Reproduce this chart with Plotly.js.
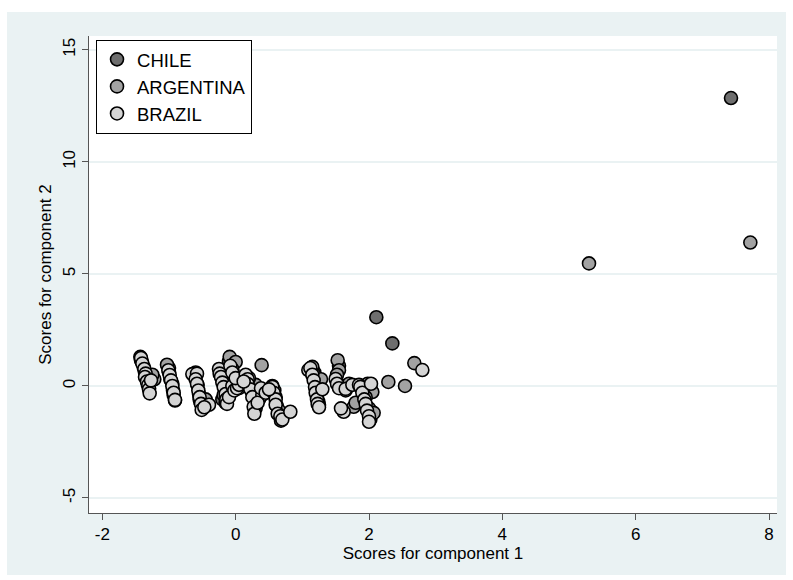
<!DOCTYPE html>
<html>
<head>
<meta charset="utf-8">
<script src="https://cdn.plot.ly/plotly-3.0.1.min.js"></script>
<style>
html,body{margin:0;padding:0;background:#ffffff;width:793px;height:580px;overflow:hidden;}
#chart{position:absolute;left:7px;top:12px;width:779px;height:563px;}
</style>
</head>
<body>
<div id="chart"></div>
<script>
// Country names (legend)
const countries = ["CHILE", "ARGENTINA", "BRAZIL"];

// CHILE scores
const chileX = [7.43, 2.11, 2.35, -1.41, -1.36, -1.30, -1.00, -0.94, -0.62, -0.54, -0.10, -0.05, -0.20, 0.20, 0.30, 0.62, 0.68, 1.18, 1.24, 1.55, 1.65, 1.96, 2.02];
const chileY = [12.85, 3.07, 1.90, 1.10, 0.60, -0.10, 0.80, -0.20, 0.45, -0.60, 1.10, 0.20, -0.60, 0.10, -1.00, -0.90, -1.55, 0.60, -0.70, 0.90, -0.20, -0.90, -1.50];

// ARGENTINA scores
const argX = [7.72, 5.30, 2.68, 2.29, 2.54,
  -1.43, -1.42, -1.38, -1.35, -1.22, -1.25, -1.32,
  -1.03, -1.00, -0.98, -0.95, -0.93, -0.91,
  -0.60, -0.57, -0.55, -0.53, -0.50, -0.45,
  -0.09, 0.00, -0.05, -0.03, 0.00, -0.02, -0.18, -0.15, 0.05,
  0.39, 0.30, 0.25, 0.20, 0.28, 0.35,
  0.55, 0.60, 0.65, 0.70, 0.58,
  1.15, 1.20, 1.22, 1.25, 1.18, 1.28,
  1.53, 1.55, 1.52, 1.60, 1.77, 1.70, 1.80,
  2.05, 1.95, 2.00, 2.02, 1.98, 2.07];
const argY = [6.40, 5.47, 1.02, 0.18, 0.00,
  1.30, 1.15, 0.85, 0.55, 0.30, 0.50, 0.10,
  0.95, 0.60, 0.30, 0.09, -0.40, -0.65,
  0.60, 0.04, -0.36, -0.71, -1.00, -0.60,
  1.30, 1.07, 0.75, 0.49, 0.09, 0.30, -0.40, -0.75, -0.10,
  0.93, 0.05, -0.30, 0.35, -0.90, -0.60,
  0.00, -0.50, -1.10, -1.40, -0.20,
  0.85, 0.09, -0.50, -0.85, 0.50, 0.30,
  1.15, 0.70, 0.50, 0.00, -0.93, 0.10, -0.75,
  -0.27, -0.50, -1.00, -1.30, 0.10, -1.20];

// BRAZIL scores
const brazilX = [2.80,
  -1.42, -1.40, -1.37, -1.35, -1.36, -1.33, -1.31, -1.30, -1.29, -1.27,
  -1.01, -0.99, -0.97, -0.95, -0.93, -0.91,
  -0.65, -0.58, -0.60, -0.58, -0.56, -0.54, -0.52, -0.51, -0.40, -0.47,
  -0.25, -0.24, -0.22, -0.20, -0.18, -0.15, -0.14, -0.13, -0.10, -0.05, -0.02, 0.02, 0.05, -0.08, -0.05, 0.00,
  0.15, 0.18, 0.18, 0.22, 0.25, 0.27, 0.28, 0.40, 0.38, 0.33, 0.45, 0.12,
  0.55, 0.57, 0.60, 0.60, 0.63, 0.67, 0.70, 0.82, 0.50,
  1.09, 1.12, 1.15, 1.17, 1.19, 1.20, 1.22, 1.23, 1.30, 1.25,
  1.50, 1.52, 1.55, 1.65, 1.62, 1.58, 1.75, 1.85,
  1.87, 1.90, 1.93, 1.95, 1.97, 2.00, 2.00, 2.03];
const brazilY = [0.71,
  1.25, 1.00, 0.76, 0.55, 0.40, 0.20, 0.04, -0.15, -0.33, 0.25,
  0.70, 0.49, 0.25, 0.00, -0.30, -0.62,
  0.53, 0.55, 0.30, 0.10, -0.20, -0.50, -0.80, -1.07, -0.84, -0.95,
  0.76, 0.55, 0.40, 0.15, -0.05, -0.36, -0.60, -0.80, -0.50, 0.00, -0.20, -0.10, 0.05, 0.90, 0.60, 0.35,
  0.50, 0.30, 0.09, -0.15, -0.50, -0.93, -1.24, -0.40, -0.10, -0.75, -0.30, 0.20,
  -0.04, -0.30, -0.60, -0.84, -1.24, -1.35, -1.50, -1.15, -0.15,
  0.71, 0.80, 0.50, 0.25, -0.05, -0.30, -0.60, -0.80, -0.15, -0.95,
  0.31, 0.10, -0.10, -0.13, -1.15, -1.00, 0.05, 0.05,
  -0.04, -0.30, -0.60, -0.80, -1.10, -1.35, -1.60, 0.10];

const xTicks = [-2, 0, 2, 4, 6, 8];
const yTicks = [-5, 0, 5, 10, 15];

const fills = ["#6e6e6e", "#a2a2a2", "#d4d4d4"];
const xs = [chileX, argX, brazilX];
const ys = [chileY, argY, brazilY];

const traces = countries.map((name, i) => ({
  type: "scatter",
  mode: "markers",
  name: name,
  legendgroup: name,
  x: xs[i],
  y: ys[i],
  marker: {size: 13, color: fills[i], line: {color: "#000000", width: 1.6}},
  hoverinfo: "x+y+name"
}));

const font = {family: "Liberation Sans, Arial, sans-serif", size: 17, color: "#000000"};

const layout = {
  width: 779,
  height: 563,
  paper_bgcolor: "#eaf2f3",
  plot_bgcolor: "#ffffff",
  margin: {l: 82, r: 9, t: 24, b: 62, pad: 0},
  font: font,
  showlegend: true,
  legend: {
    x: 0.0102, y: 0.992, xanchor: "left", yanchor: "top",
    bgcolor: "#ffffff", bordercolor: "#000000", borderwidth: 1,
    font: {family: "Liberation Sans, Arial, sans-serif", size: 18.5, color: "#000000"},
    tracegroupgap: 1, traceorder: "normal"
  },
  xaxis: {
    range: [-2.2, 8.12],
    tickvals: xTicks,
    ticktext: xTicks.map(String),
    ticks: "outside", ticklen: 6, tickwidth: 1, tickcolor: "#555555",
    showline: true, linecolor: "#555555", linewidth: 1,
    showgrid: false, zeroline: false,
    tickfont: font,
    title: {text: "Scores for component 1", font: font, standoff: 1}
  },
  yaxis: {
    range: [-5.67, 15.62],
    tickvals: yTicks,
    ticktext: yTicks.map(String),
    tickangle: -90,
    ticks: "outside", ticklen: 6, tickwidth: 1, tickcolor: "#555555",
    showline: true, linecolor: "#555555", linewidth: 1,
    showgrid: true, gridcolor: "#eaf2f3", gridwidth: 1.5,
    zeroline: false,
    tickfont: font,
    title: {text: "Scores for component 2", font: font, standoff: 4}
  }
};

Plotly.newPlot("chart", traces, layout, {displayModeBar: false, staticPlot: true});
</script>
</body>
</html>
